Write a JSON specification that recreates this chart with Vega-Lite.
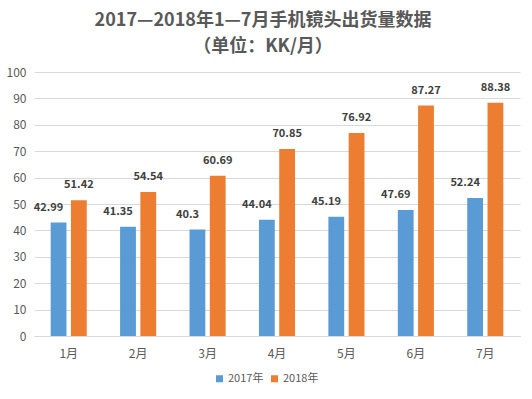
{
  "$schema": "https://vega.github.io/schema/vega-lite/v6.json",
  "width": 486,
  "height": 264,
  "autosize": {"type": "none"},
  "padding": {"left": 34, "top": 72, "right": 12, "bottom": 63},
  "background": "white",
  "title": {
    "text": ["2017—2018年1—7月手机镜头出货量数据", "（单位：KK/月）"],
    "font": "Noto Sans CJK SC",
    "fontSize": 18,
    "fontWeight": "bold",
    "color": "#595959",
    "lineHeight": 26,
    "offset": 10,
    "anchor": "middle",
    "frame": "bounds"
  },
  "config": {
    "view": {"stroke": null},
    "font": "Noto Sans CJK SC"
  },
  "data": {
    "values": [
      {"month": "1月", "year": "2017年", "value": 42.99},
      {"month": "1月", "year": "2018年", "value": 51.42},
      {"month": "2月", "year": "2017年", "value": 41.35},
      {"month": "2月", "year": "2018年", "value": 54.54},
      {"month": "3月", "year": "2017年", "value": 40.3},
      {"month": "3月", "year": "2018年", "value": 60.69},
      {"month": "4月", "year": "2017年", "value": 44.04},
      {"month": "4月", "year": "2018年", "value": 70.85},
      {"month": "5月", "year": "2017年", "value": 45.19},
      {"month": "5月", "year": "2018年", "value": 76.92},
      {"month": "6月", "year": "2017年", "value": 47.69},
      {"month": "6月", "year": "2018年", "value": 87.27},
      {"month": "7月", "year": "2017年", "value": 52.24},
      {"month": "7月", "year": "2018年", "value": 88.38}
    ]
  },
  "encoding": {
    "x": {
      "field": "month",
      "type": "nominal",
      "sort": ["1月", "2月", "3月", "4月", "5月", "6月", "7月"],
      "scale": {"paddingInner": 0.48, "paddingOuter": 0.24},
      "axis": {
        "title": null,
        "labelAngle": 0,
        "ticks": false,
        "domainColor": "#d9d9d9",
        "labelColor": "#595959",
        "labelFontSize": 12,
        "labelPadding": 12
      }
    },
    "xOffset": {
      "field": "year",
      "type": "nominal",
      "scale": {"paddingInner": 0.22}
    },
    "y": {
      "field": "value",
      "type": "quantitative",
      "scale": {"domain": [0, 100]},
      "axis": {
        "title": null,
        "values": [0, 10, 20, 30, 40, 50, 60, 70, 80, 90, 100],
        "domain": false,
        "ticks": false,
        "gridColor": "#d9d9d9",
        "labelColor": "#595959",
        "labelFontSize": 12,
        "labelPadding": 8
      }
    }
  },
  "layer": [
    {
      "mark": {"type": "bar"},
      "encoding": {
        "color": {
          "field": "year",
          "type": "nominal",
          "scale": {"domain": ["2017年", "2018年"], "range": ["#5B9BD5", "#ED7D31"]},
          "legend": {
            "title": null,
            "orient": "none",
            "legendX": 180,
            "legendY": 301,
            "direction": "horizontal",
            "symbolType": "square",
            "symbolSize": 49,
            "symbolStrokeWidth": 0,
            "labelFontSize": 11,
            "labelColor": "#595959",
            "labelOffset": 3,
            "columnPadding": 5
          }
        }
      }
    },
    {
      "transform": [{"filter": "datum.year === '2017年'"}],
      "mark": {"type": "text", "dy": -15, "dx": -10, "fontSize": 11, "fontWeight": "bold", "color": "#404040", "baseline": "middle"},
      "encoding": {"text": {"field": "value", "type": "quantitative"}}
    },
    {
      "transform": [{"filter": "datum.year === '2018年'"}],
      "mark": {"type": "text", "dy": -15, "fontSize": 11, "fontWeight": "bold", "color": "#404040", "baseline": "middle"},
      "encoding": {"text": {"field": "value", "type": "quantitative"}}
    }
  ]
}
